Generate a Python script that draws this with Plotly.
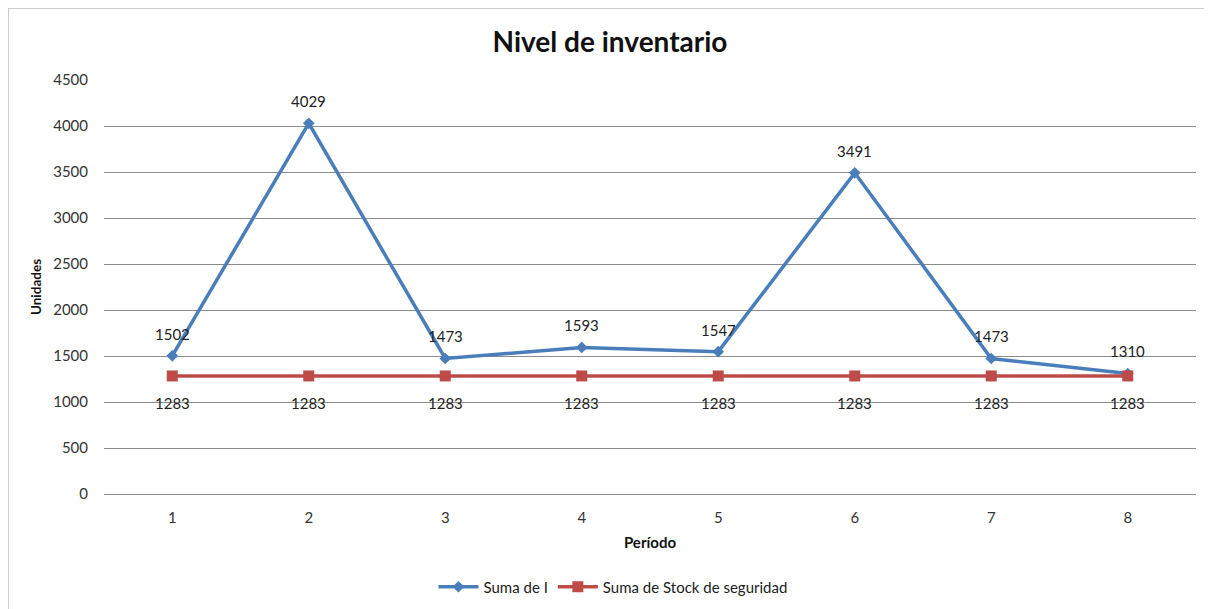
import plotly.graph_objects as go

periodos = ["1", "2", "3", "4", "5", "6", "7", "8"]
suma_i = [1502, 4029, 1473, 1593, 1547, 3491, 1473, 1310]
stock_seguridad = [1283, 1283, 1283, 1283, 1283, 1283, 1283, 1283]
y_ticks = [0, 500, 1000, 1500, 2000, 2500, 3000, 3500, 4000, 4500]

FONT = "Lato"
fig = go.Figure()
fig.add_trace(go.Scatter(
    x=periodos, y=suma_i, name="Suma de I", mode="lines+markers",
    line=dict(color="#4A7EBB", width=3.5),
    marker=dict(symbol="diamond", size=9, color="#4A7EBB"),
))
fig.add_trace(go.Scatter(
    x=periodos, y=stock_seguridad, name="Suma de Stock de seguridad", mode="lines+markers",
    line=dict(color="#BE4B48", width=3.5),
    marker=dict(symbol="square", size=11, color="#BE4B48"),
))

annotations = []
for i, v in enumerate(suma_i):
    annotations.append(dict(x=i, y=v, text=str(v), showarrow=False, yshift=22,
                            font=dict(size=15, color="#222", family=FONT)))
for i, v in enumerate(stock_seguridad):
    annotations.append(dict(x=i, y=v, text=str(v), showarrow=False, yshift=-27,
                            font=dict(size=15, color="#222", family=FONT)))

fig.update_layout(
    width=1212, height=609,
    margin=dict(l=96, r=24, t=72, b=123),
    paper_bgcolor="white", plot_bgcolor="white",
    font=dict(family=FONT, size=15, color="#333"),
    title=dict(text="<b>Nivel de inventario</b>", x=(610 - 8) / 1212, xanchor="center",
               y=1 - 34 / 609, yanchor="middle",
               font=dict(size=28, color="#111", family=FONT)),
    showlegend=True,
    legend=dict(orientation="h", x=(613 - 104) / 1092, xanchor="center",
                y=-(579 - 486) / 414, yanchor="middle",
                font=dict(size=15, color="#222", family=FONT), itemwidth=40),
    annotations=annotations,
    xaxis=dict(type="category", range=[-0.5, 7.5], showgrid=False, showline=False,
               ticks="", tickfont=dict(size=15, color="#333"), ticklabelstandoff=13,
               title=dict(text="<b>Período</b>", font=dict(size=15, color="#111"), standoff=12)),
    yaxis=dict(range=[0, 4500], tickvals=y_ticks, showgrid=True, gridcolor="#8c8c8c",
               gridwidth=1, zeroline=True, zerolinecolor="#8c8c8c", zerolinewidth=1,
               showline=False, ticks="", tickfont=dict(size=15, color="#333"),
               ticklabelstandoff=15,
               title=dict(text="<b>Unidades</b>", font=dict(size=13.5, color="#111"), standoff=8)),
    shapes=[dict(type="rect", xref="paper", yref="paper",
                 x0=-96 / 1092, x1=1.2, y0=-0.5, y1=486 / 414,
                 line=dict(color="#bdbdbd", width=1.5), fillcolor="rgba(0,0,0,0)", layer="below")],
)

fig.write_html("out.html")
